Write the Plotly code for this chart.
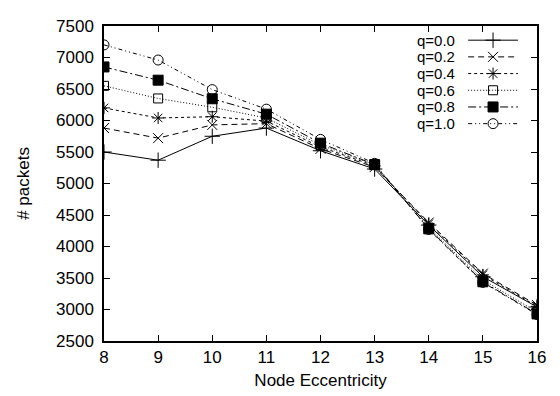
import plotly.graph_objects as go

eccentricity = [8, 9, 10, 11, 12, 13, 14, 15, 16]
q_labels = ["q=0.0", "q=0.2", "q=0.4", "q=0.6", "q=0.8", "q=1.0"]
q00 = [5500, 5370, 5750, 5880, 5520, 5230, 4340, 3520, 3040]
q02 = [5880, 5720, 5930, 5950, 5550, 5260, 4380, 3570, 3070]
q04 = [6200, 6040, 6060, 5990, 5580, 5280, 4360, 3550, 3050]
q06 = [6550, 6350, 6210, 6040, 5610, 5300, 4300, 3470, 2960]
q08 = [6850, 6640, 6345, 6100, 5640, 5300, 4280, 3440, 2930]
q10 = [7200, 6960, 6490, 6180, 5700, 5320, 4270, 3430, 2920]
series = [q00, q02, q04, q06, q08, q10]

dashes = ["solid", "6px,4px", "3px,3px", "1px,2px", "8px,3px,2px,3px", "4px,3px,1px,3px,1px,3px"]
symbols = ["cross-thin-open", "x-thin-open", "asterisk-open", "square-open", "square", "circle-open"]
sizes = [11, 10, 10, 9, 10, 10]

fig = go.Figure()
for vals, d, s, sz, name in zip(series, dashes, symbols, sizes, q_labels):
    fig.add_trace(go.Scatter(
        x=eccentricity, y=vals, mode="lines+markers", name=name,
        line=dict(color="black", width=1, dash=d),
        marker=dict(symbol=s, size=sz, color="black",
                    line=dict(color="black", width=1)),
        showlegend=False))

# custom legend (text left, sample right, like gnuplot)
leg_y = [0.955, 0.902, 0.849, 0.796, 0.743, 0.690]
for i, (d, s, sz, name) in enumerate(zip(dashes, symbols, sizes, q_labels)):
    fig.add_trace(go.Scatter(
        x=[0.841, 0.956], y=[leg_y[i], leg_y[i]], mode="lines",
        xaxis="x2", yaxis="y2", showlegend=False, hoverinfo="skip",
        line=dict(color="black", width=1, dash=d)))
    fig.add_trace(go.Scatter(
        x=[0.8985], y=[leg_y[i]], mode="markers",
        xaxis="x2", yaxis="y2", showlegend=False, hoverinfo="skip",
        marker=dict(symbol=s, size=sz, color="black",
                    line=dict(color="black", width=1))))
    fig.add_annotation(x=0.815, y=leg_y[i], xref="paper", yref="paper",
                       text=name, showarrow=False, xanchor="right",
                       yanchor="middle",
                       font=dict(size=15, color="black",
                                 family="Liberation Sans, Arial, sans-serif"))

axis_font = dict(size=17, color="black", family="Liberation Sans, Arial, sans-serif")
fig.update_layout(
    width=552, height=388,
    margin=dict(l=96, r=23, t=9, b=44),
    plot_bgcolor="white", paper_bgcolor="white",
    font=axis_font,
    xaxis=dict(range=[8, 16], dtick=1, tick0=8, showline=True, linecolor="black",
               linewidth=1.5, mirror="ticks", ticks="inside", ticklen=6,
               tickcolor="black", showgrid=False, zeroline=False,
               title=dict(text="Node Eccentricity", font=axis_font, standoff=8),
               tickfont=axis_font),
    yaxis=dict(range=[2500, 7500], dtick=500, tick0=2500, showline=True,
               linecolor="black", linewidth=1.5, mirror="ticks", ticks="inside",
               ticklen=6, tickcolor="black", showgrid=False, zeroline=False,
               ticklabelstandoff=5,
               title=dict(text="# packets", font=axis_font, standoff=22),
               tickfont=axis_font),
    xaxis2=dict(domain=[0, 1], range=[0, 1], overlaying="x", visible=False,
                fixedrange=True),
    yaxis2=dict(domain=[0, 1], range=[0, 1], overlaying="y", visible=False,
                fixedrange=True),
)

fig.write_html("out.html")
